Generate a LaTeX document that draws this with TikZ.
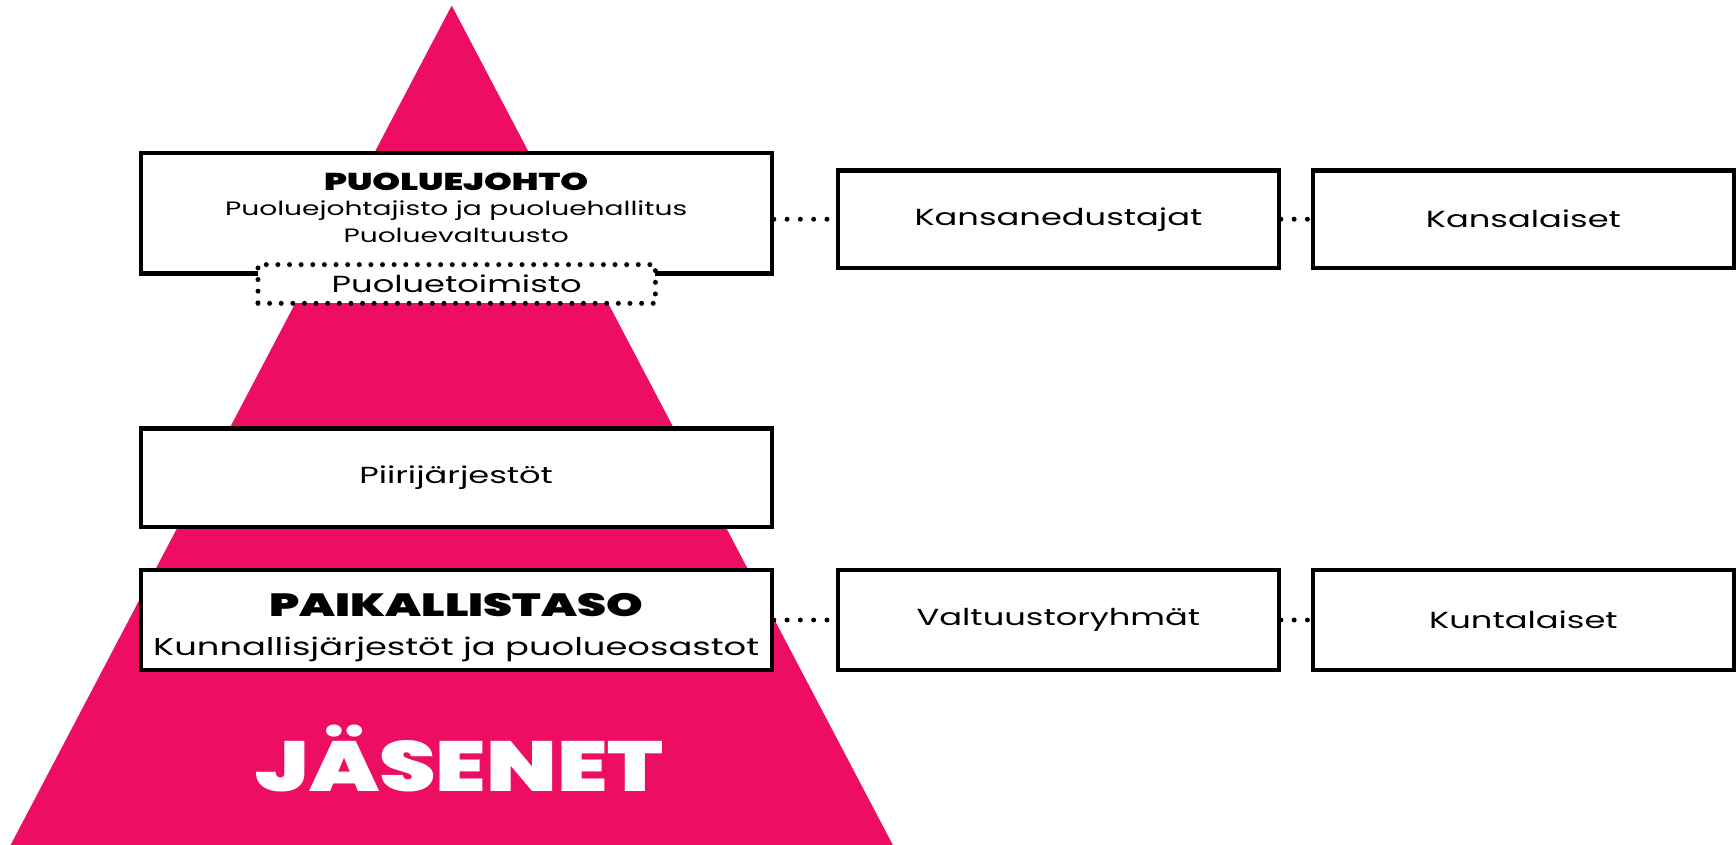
\documentclass[tikz,border=0pt]{standalone}
\usepackage{fontspec}
\setmainfont{Poppins}[FakeStretch=1.45, BoldFont={Poppins Black}]
\newfontfamily\jasenfont{Poppins Black}[FakeStretch=1.28]
\definecolor{jasenpink}{RGB}{237,14,100}
\tikzset{my box/.style={draw, line width=3.8pt, fill=white, minimum width=570pt, minimum height=90pt, inner sep=0pt, font=\fontsize{21}{25}\selectfont},
my side box/.style={my box, minimum width=398pt, minimum height=88pt},
my dots/.style={line width=4.5pt, line cap=round, dash pattern=on 0pt off 10.5pt},
my link/.style={my dots, dash pattern=on 0pt off 12pt},}

\begin{document}
\begin{tikzpicture}[x=1pt,y=-1pt]
\useasboundingbox (0,0) rectangle (1568,763);
% pyramidi
\fill [jasenpink] (408,5) -- (6,770) -- (810,770) -- cycle;
\node [white,anchor=base,inner sep=0pt,font=\jasenfont\fontsize{64}{64}\selectfont] (jasenet) at (415,715) {JÄSENET};
% ylataso
\node [my box,minimum height=109pt] (johto) at (412,192.5) {};
\node [anchor=base,inner sep=0pt,font=\bfseries\fontsize{22}{22}\selectfont] (johtootsikko) at (412,172.5) {PUOLUEJOHTO};
\node [anchor=base,inner sep=0pt,font=\fontsize{17.5}{20}\selectfont] (johtorivi1) at (412,195) {Puoluejohtajisto ja puoluehallitus};
\node [anchor=base,inner sep=0pt,font=\fontsize{17.5}{20}\selectfont] (johtorivi2) at (412,219) {Puoluevaltuusto};
\node [my dots,draw,fill=white,minimum width=359pt,minimum height=35pt,inner sep=0pt,font=\fontsize{21}{25}\selectfont] (toimisto) at (412.5,256.5) {Puoluetoimisto};
\node [my side box] (kansanedustajat) at (956,198) {Kansanedustajat};
\node [my side box,minimum width=380pt] (kansalaiset) at (1376,198) {Kansalaiset};
% piirit
\node [my box,minimum height=89pt] (piiri) at (412,431.5) {Piirijärjestöt};
% paikallistaso
\node [my box] (paikallis) at (412,560) {};
\node [anchor=base,inner sep=0pt,font=\bfseries\fontsize{29}{29}\selectfont] (paikallisotsikko) at (412,557) {PAIKALLISTASO};
\node [anchor=base,inner sep=0pt,font=\fontsize{22}{25}\selectfont] (paikallisrivi) at (412,592) {Kunnallisjärjestöt ja puolueosastot};
\node [my side box,minimum height=90pt] (valtuusto) at (956,560) {Valtuustoryhmät};
\node [my side box,minimum width=380pt,minimum height=90pt] (kuntalaiset) at (1376,560) {Kuntalaiset};
% yhteydet
\draw [my link] (johto.east |- kansanedustajat.west) -- (kansanedustajat.west);
\draw [my link] (kansanedustajat.east) -- (kansalaiset.west);
\draw [my link] (paikallis.east) -- (valtuusto.west);
\draw [my link] (valtuusto.east) -- (kuntalaiset.west);
\end{tikzpicture}
\end{document}
